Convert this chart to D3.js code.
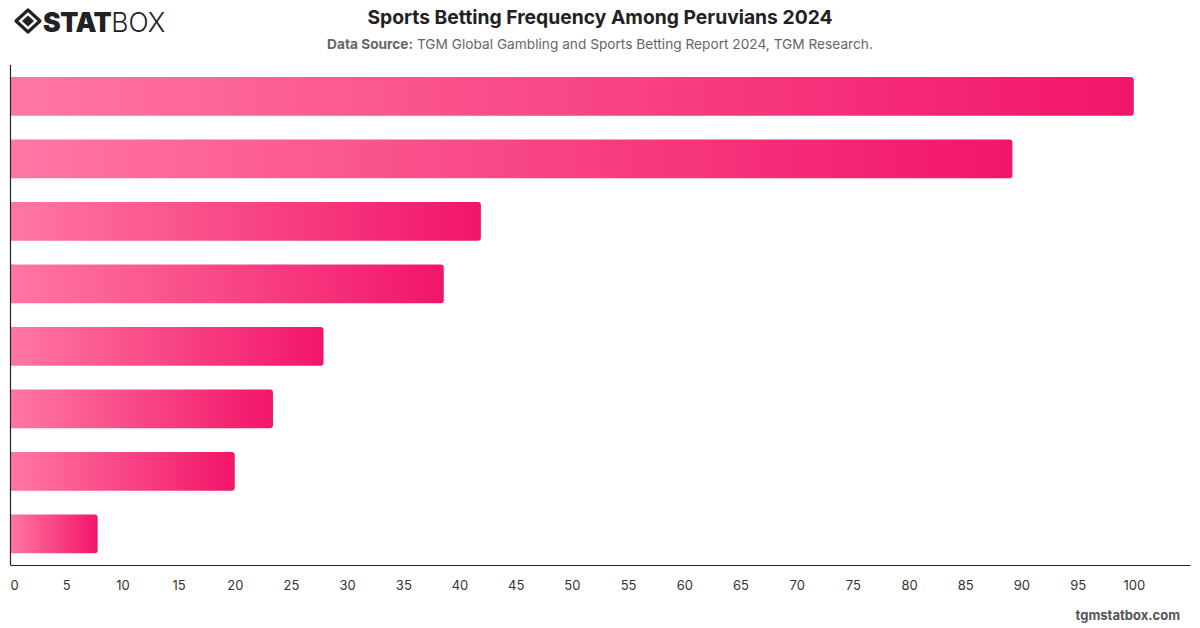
<!DOCTYPE html>
<html>
<head>
<meta charset="utf-8">
<script src="https://cdn.jsdelivr.net/npm/d3@7/dist/d3.min.js"></script>
<style>
  html, body { margin: 0; padding: 0; background: #fff; }
  svg { display: block; font-family: Inter, "Noto Sans", sans-serif; }
</style>
</head>
<body>
<svg id="chart" width="1200" height="628"></svg>
<script>
const categories = ["Category 1", "Category 2", "Category 3", "Category 4", "Category 5", "Category 6", "Category 7", "Category 8"];
const values = [100, 89.2, 41.9, 38.6, 27.9, 23.4, 20.0, 7.8];
const tickValues = [0, 5, 10, 15, 20, 25, 30, 35, 40, 45, 50, 55, 60, 65, 70, 75, 80, 85, 90, 95, 100];
const titleText = "Sports Betting Frequency Among Peruvians 2024";
const sourceLabel = "Data Source:";
const sourceText = " TGM Global Gambling and Sports Betting Report 2024, TGM Research.";

(function () {
const svg = d3.select("#chart");
const W = 1200, H = 628;
const mLeft = 10, mRight = 1190, mTop = 65, mBottom = 565;

const x = d3.scaleLinear().domain([0, 105]).range([mLeft, mRight]);
const y = d3.scaleBand().domain(categories).range([mTop, mBottom]).paddingInner(0.38).paddingOuter(0.19);

const defs = svg.append("defs");
const grad = defs.append("linearGradient").attr("id", "barGrad")
  .attr("x1", "0%").attr("x2", "100%").attr("y1", "0%").attr("y2", "0%");
grad.append("stop").attr("offset", "0%").attr("stop-color", "#ff77a3");
grad.append("stop").attr("offset", "100%").attr("stop-color", "#f2156a");

// Title
svg.append("text").attr("x", W / 2).attr("y", 24).attr("text-anchor", "middle")
  .attr("font-size", 19.3).attr("font-weight", 700).attr("fill", "#222").text(titleText);
const sub = svg.append("text").attr("x", W / 2).attr("y", 49).attr("text-anchor", "middle")
  .attr("font-size", 13.7).attr("fill", "#666");
sub.append("tspan").attr("font-weight", 700).text(sourceLabel);
sub.append("tspan").text(sourceText);

// Logo
const logo = svg.append("g").attr("transform", "translate(28,21)");
logo.append("path").attr("d", "M0,-11 L12,0 L0,11 L-12,0 Z").attr("fill", "none").attr("stroke", "#222").attr("stroke-width", 3.2).attr("stroke-linejoin", "round");
logo.append("path").attr("d", "M0,-5.5 L6,0 L0,5.5 L-6,0 Z").attr("fill", "#222");
const lt = svg.append("text").attr("x", 43).attr("y", 32).attr("font-size", 26.5).attr("fill", "#222")
  .attr("font-family", "Inter, 'DejaVu Sans', sans-serif");
lt.append("tspan").attr("font-weight", 900).attr("letter-spacing", -0.5).text("STAT");
lt.append("tspan").attr("font-weight", 300).text("BOX");

// Bars
const r = 3;
svg.append("g").selectAll("path").data(values).join("path")
  .attr("fill", "url(#barGrad)")
  .attr("d", (d, i) => {
    const x0 = x(0), x1 = x(d), y0 = y(categories[i]), h = y.bandwidth();
    return `M${x0},${y0} H${x1 - r} Q${x1},${y0} ${x1},${y0 + r} V${y0 + h - r} Q${x1},${y0 + h} ${x1 - r},${y0 + h} H${x0} Z`;
  });

// Axes
const xAxis = d3.axisBottom(x).tickValues(tickValues).tickSize(0).tickPadding(16).tickFormat(d3.format("d"));
const gx = svg.append("g").attr("transform", `translate(0,${mBottom})`).call(xAxis);
gx.select(".domain").attr("stroke", "#222").attr("stroke-width", 1.2);
gx.selectAll("text").attr("font-size", 13).attr("fill", "#333").attr("font-family", "Inter, 'Noto Sans', sans-serif");
gx.selectAll(".tick").filter(d => d === 0).select("text").attr("text-anchor", "start");

svg.append("line").attr("x1", mLeft + 0.5).attr("x2", mLeft + 0.5).attr("y1", mTop).attr("y2", mBottom)
  .attr("stroke", "#222").attr("stroke-width", 1.2);

// Watermark
svg.append("text").attr("x", 1180).attr("y", 620).attr("text-anchor", "end")
  .attr("font-size", 13).attr("font-weight", 700).attr("fill", "#555").text("tgmstatbox.com");
})();
</script>
</body>
</html>
